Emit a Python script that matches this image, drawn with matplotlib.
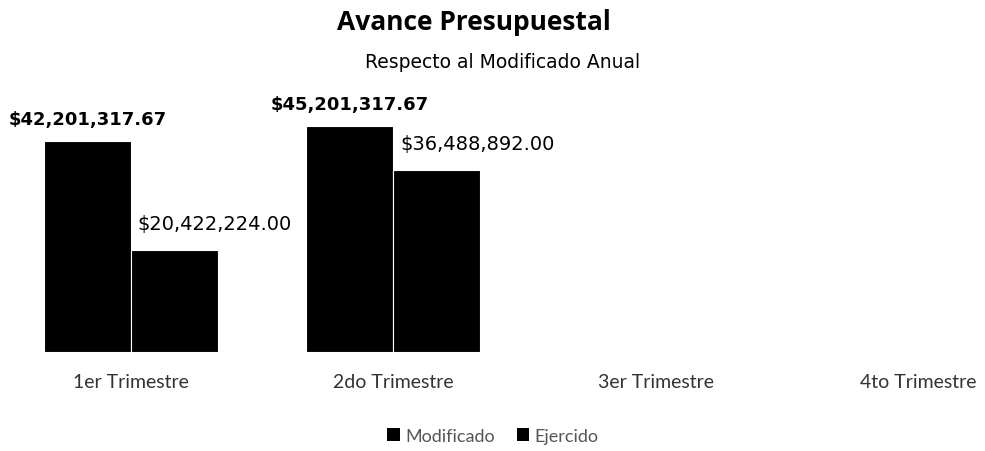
import matplotlib
matplotlib.use('Agg')
import matplotlib.pyplot as plt
import numpy as np
from matplotlib.patches import Patch

# datos del gráfico
trimestres = ['1er Trimestre', '2do Trimestre', '3er Trimestre', '4to Trimestre']
modificado = [42201317.67, 45201317.67, None, None]
ejercido = [20422224.00, 36488892.00, None, None]
series = ['Modificado', 'Ejercido']

W, H = 985, 452
fig = plt.figure(figsize=(W / 100, H / 100), dpi=100)

# área de trazado (en píxeles)
ax = fig.add_axes([0, 99 / H, 1, 250 / H])
x = np.arange(len(trimestres))
w = 0.332

for i in range(len(trimestres)):
    if modificado[i] is not None:
        ax.bar(x[i] - w / 2, modificado[i], width=w, color='black', edgecolor='white', linewidth=0.8)
        ax.annotate('${:,.2f}'.format(modificado[i]), (x[i] - w / 2, modificado[i]),
                    xytext=(0, 9), textcoords='offset points', ha='center', va='bottom',
                    fontsize=13, fontweight='bold', family='DejaVu Sans')
    if ejercido[i] is not None:
        ax.bar(x[i] + w / 2, ejercido[i], width=w, color='black', edgecolor='white', linewidth=0.8)
        ax.annotate('${:,.2f}'.format(ejercido[i]), (x[i] + w / 2, ejercido[i]),
                    xytext=(29, 12), textcoords='offset points', ha='center', va='bottom',
                    fontsize=14, family='DejaVu Sans')

ax.set_xlim(-0.5, 3.256)
ax.set_ylim(0, 50e6)
ax.set_xticks(x)
ax.set_xticklabels(trimestres, fontsize=14, family='Lato', color='#333333')
ax.tick_params(axis='x', length=0, pad=15)
ax.set_yticks([])
for s in ax.spines.values():
    s.set_visible(False)
ax.patch.set_alpha(0)

fig.text(474 / W, 1 - 22 / H, 'Avance Presupuestal', ha='center', va='center',
         fontsize=19, fontweight='bold', family='Open Sans')
fig.text(503 / W, 1 - 62 / H, 'Respecto al Modificado Anual', ha='center', va='center',
         fontsize=13.5, family='DejaVu Sans')

handles = [Patch(facecolor='black', label=s) for s in series]
fig.legend(handles=handles, loc='center', bbox_to_anchor=(493 / W, 15 / H), ncol=2,
           frameon=False, handlelength=0.7, handleheight=0.7,
           handletextpad=0.3, columnspacing=1.2, labelcolor='#555555',
           prop={'family': 'Lato', 'size': 13})

fig.savefig('out.png', dpi=100)
